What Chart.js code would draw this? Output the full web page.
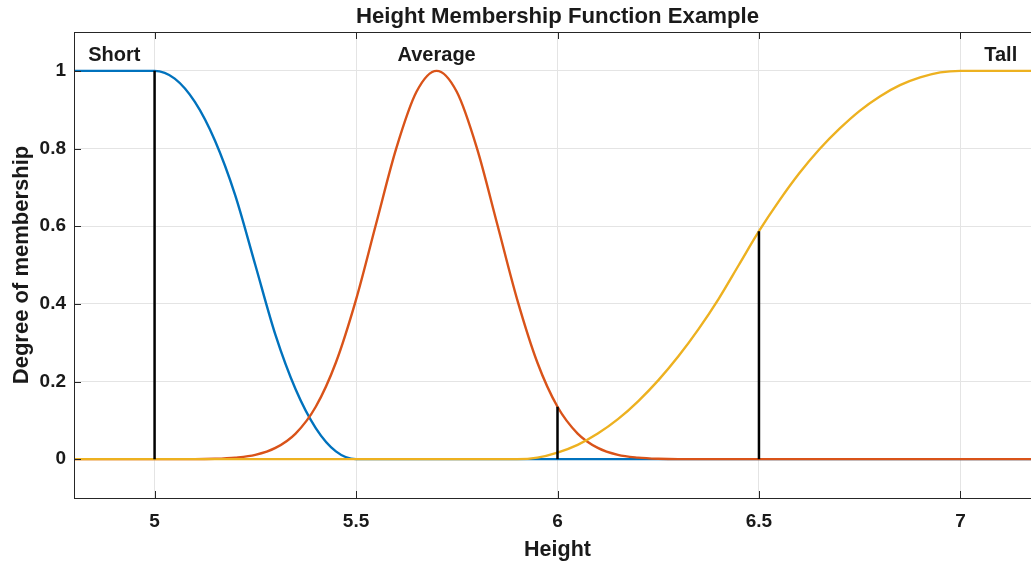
<!DOCTYPE html>
<html>
<head>
<meta charset="utf-8">
<title>Height Membership Function Example</title>
<script src="https://cdn.jsdelivr.net/npm/chart.js@4"></script>
<style>
  html, body { margin: 0; padding: 0; background: #fff; overflow: hidden; }
  #wrap { width: 1041px; height: 563px; }
</style>
</head>
<body>
<div id="wrap"><canvas id="myChart" width="1041" height="563"></canvas></div>
<script>
// sample heights (x) and membership degrees
const heights = [4.8, 4.85, 4.9, 4.95, 5, 5.05, 5.1, 5.15, 5.2, 5.25, 5.3, 5.35, 5.4, 5.45, 5.5,
    5.55, 5.6, 5.65, 5.7, 5.75, 5.8, 5.85, 5.9, 5.95, 6, 6.05, 6.1, 6.15, 6.2, 6.25, 6.3, 6.35,
    6.4, 6.45, 6.5, 6.55, 6.6, 6.65, 6.7, 6.75, 6.8, 6.85, 6.9, 6.95, 7, 7.05, 7.1, 7.15, 7.2];

const shortValues = [1, 1, 1, 1, 1, 0.98, 0.92, 0.82, 0.68, 0.5, 0.32, 0.18, 0.08, 0.02,
    0, 0, 0, 0, 0, 0, 0, 0, 0, 0, 0, 0, 0, 0, 0, 0, 0, 0, 0, 0, 0, 0, 0, 0, 0, 0, 0, 0, 0, 0, 0, 0, 0, 0, 0];

const averageValues = [0, 0, 0, 0, 0, 0, 0, 0.001, 0.004, 0.011, 0.029, 0.066, 0.135, 0.249,
    0.411, 0.607, 0.801, 0.946, 1, 0.946, 0.801, 0.607, 0.411, 0.249, 0.135, 0.066, 0.029, 0.011,
    0.004, 0.001, 0, 0, 0, 0, 0, 0, 0, 0, 0, 0, 0, 0, 0, 0, 0, 0, 0, 0, 0];

const tallValues = [0, 0, 0, 0, 0, 0, 0, 0, 0, 0, 0, 0, 0, 0, 0, 0, 0, 0, 0, 0, 0, 0, 0,
    0.004, 0.017, 0.037, 0.066, 0.103, 0.149, 0.203, 0.265, 0.335, 0.413, 0.5, 0.587, 0.665,
    0.736, 0.798, 0.851, 0.897, 0.934, 0.963, 0.983, 0.996, 1, 1, 1, 1, 1];

// black stems
const markerX = [5, 6, 6.5];
const markerY = [1, 0.135, 0.587];

const xTicks = [5, 5.5, 6, 6.5, 7];
const yTicks = [0, 0.2, 0.4, 0.6, 0.8, 1];

const labelNames = ['Short', 'Average', 'Tall'];
const labelX = [4.9, 5.7, 7.1];
const labelY = [1.026, 1.026, 1.026];

const FONT = '"Liberation Sans", Arial, Helvetica, sans-serif';
const TEXT = '#1a1a1a';

function toPoints(values) {
    return heights.map((h, i) => ({ x: h, y: values[i] }));
}

const stemSets = markerX.map((mx, i) => ({
    data: [{ x: mx, y: 0 }, { x: mx, y: markerY[i] }],
    borderColor: '#000',
    borderWidth: 2.5,
    pointRadius: 0,
    order: 0
}));

// box, inner tick marks, curve names and title
const decorations = {
    id: 'decorations',
    afterDraw(chart) {
        const { ctx, chartArea: a, scales: { x, y } } = chart;
        ctx.save();
        ctx.strokeStyle = '#262626';
        ctx.lineWidth = 1;
        ctx.strokeRect(a.left + 0.5, a.top + 0.5, a.right - a.left, a.bottom - a.top);

        ctx.beginPath();
        xTicks.forEach(v => {
            const px = Math.round(x.getPixelForValue(v)) + 0.5;
            ctx.moveTo(px, a.bottom); ctx.lineTo(px, a.bottom - 7);
            ctx.moveTo(px, a.top); ctx.lineTo(px, a.top + 7);
        });
        yTicks.forEach(v => {
            const py = Math.round(y.getPixelForValue(v)) + 0.5;
            ctx.moveTo(a.left, py); ctx.lineTo(a.left + 7, py);
            ctx.moveTo(a.right, py); ctx.lineTo(a.right - 7, py);
        });
        ctx.stroke();

        ctx.fillStyle = TEXT;
        ctx.textAlign = 'center';
        ctx.textBaseline = 'alphabetic';
        ctx.font = 'bold 20px ' + FONT;
        labelNames.forEach((name, i) => {
            ctx.fillText(name, x.getPixelForValue(labelX[i]), y.getPixelForValue(labelY[i]));
        });

        ctx.font = 'bold 22.2px ' + FONT;
        ctx.fillText('Height Membership Function Example', (a.left + a.right) / 2, 23);
        ctx.restore();
    }
};

const ctx = document.getElementById('myChart').getContext('2d');
const myChart = new Chart(ctx, {
    type: 'line',
    data: {
        datasets: [
            ...stemSets,
            { label: 'Tall', data: toPoints(tallValues), borderColor: '#EDB120', order: 1 },
            { label: 'Average', data: toPoints(averageValues), borderColor: '#D95319', order: 2 },
            { label: 'Short', data: toPoints(shortValues), borderColor: '#0072BD', order: 3 }
        ]
    },
    options: {
        responsive: false,
        animation: false,
        devicePixelRatio: 1,
        layout: { padding: { top: 32, left: 0, right: 0, bottom: 0 } },
        datasets: {
            line: { borderWidth: 2.4, pointRadius: 0, cubicInterpolationMode: 'monotone', fill: false }
        },
        plugins: {
            legend: { display: false },
            tooltip: { enabled: false }
        },
        scales: {
            x: {
                type: 'linear',
                min: 4.8,
                max: 7.2,
                afterBuildTicks: s => { s.ticks = xTicks.map(v => ({ value: v })); },
                afterFit: s => { s.height = 65; },
                grid: { color: '#e4e4e4', drawTicks: false },
                border: { display: false },
                ticks: {
                    padding: 12,
                    autoSkip: false,
                    maxRotation: 0,
                    color: TEXT,
                    font: { family: FONT, size: 19, weight: 'bold' },
                    callback: v => String(v)
                },
                title: {
                    display: true,
                    text: 'Height',
                    color: TEXT,
                    font: { family: FONT, size: 21.5, weight: 'bold' },
                    padding: { top: 0, bottom: 0 }
                }
            },
            y: {
                min: -0.1,
                max: 1.1,
                afterBuildTicks: s => { s.ticks = yTicks.map(v => ({ value: v })); },
                afterFit: s => { s.width = 74; },
                grid: { color: '#e4e4e4', drawTicks: false },
                border: { display: false },
                ticks: {
                    padding: 8,
                    color: TEXT,
                    font: { family: FONT, size: 19, weight: 'bold' },
                    callback: v => String(v)
                },
                title: {
                    display: true,
                    text: 'Degree of membership',
                    color: TEXT,
                    font: { family: FONT, size: 22, weight: 'bold' },
                    padding: { top: 9, bottom: 0 }
                }
            }
        }
    },
    plugins: [decorations]
});
</script>
</body>
</html>
